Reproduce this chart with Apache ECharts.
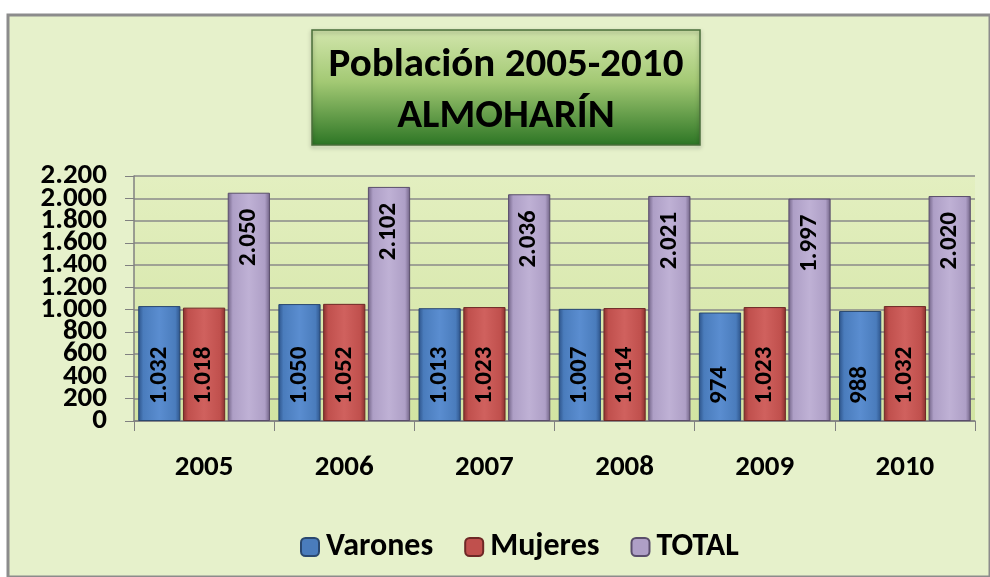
<!DOCTYPE html>
<html>
<head>
<meta charset="utf-8">
<script src="https://cdn.jsdelivr.net/npm/echarts@6/dist/echarts.min.js"></script>
<style>
html,body{margin:0;padding:0;background:#fff;}
#c{width:990px;height:577px;}
</style>
</head>
<body>
<div id="c"></div>
<script>
const categories = ['2005','2006','2007','2008','2009','2010'];
const varones = [1032, 1050, 1013, 1007, 974, 988];
const mujeres = [1018, 1052, 1023, 1014, 1023, 1032];
const total = [2050, 2102, 2036, 2021, 1997, 2020];
const titleLines = ['Población 2005-2010', 'ALMOHARÍN'];
const yTicks = [0, 200, 400, 600, 800, 1000, 1200, 1400, 1600, 1800, 2000, 2200];
const yMin = 0, yMax = 2200, yStep = 200;

const FONT = 'Carlito, "Liberation Sans Narrow", "Open Sans", sans-serif';

function fmt(v){
  const s = String(Math.round(v));
  return s.replace(/\B(?=(\d{3})+(?!\d))/g, '.');
}
function barGrad(edge, mid, light){
  return new echarts.graphic.LinearGradient(0,0,1,0,[
    {offset:0,color:edge},{offset:0.12,color:mid},{offset:0.5,color:light},{offset:0.88,color:mid},{offset:1,color:edge}
  ]);
}

const chart = echarts.init(document.getElementById('c'), null, {renderer:'canvas'});
const labelBase = {
  show:true, rotate:90, fontFamily:FONT, fontWeight:'bold', fontSize:25, color:'#000',
  formatter:p=>fmt(p.value)
};
const baseGraphics = [
  {type:'rect', z:-10, shape:{x:8,y:15,width:982,height:562},
   style:{fill:'#e6f1cb', stroke:'#8c8c8c', lineWidth:3}},
  {type:'rect', z:-9, shape:{x:312,y:30,width:388,height:115},
   style:{fill:new echarts.graphic.LinearGradient(0,0,0,1,[
     {offset:0,color:'#d3e6ad'},{offset:0.45,color:'#a3c974'},{offset:1,color:'#2c7524'}]),
     stroke:'#4a6e3a', lineWidth:1.5, shadowColor:'rgba(0,0,0,0.35)', shadowBlur:4, shadowOffsetY:2}},
  {type:'text', z:10, x:506, y:66,
   style:{text:titleLines[0], font:'bold 41px '+FONT, fill:'#000', textAlign:'center', textVerticalAlign:'middle'}},
  {type:'text', z:10, x:506, y:117,
   style:{text:titleLines[1], font:'bold 41px '+FONT, fill:'#000', textAlign:'center', textVerticalAlign:'middle'}}
];
chart.setOption({
  animation:false,
  textStyle:{fontFamily:FONT},
  graphic:baseGraphics,
  grid:{left:134, right:15, top:176, bottom:156, show:true,
        backgroundColor:new echarts.graphic.LinearGradient(0,0,0,1,[
          {offset:0,color:'#e3efc0'},{offset:1,color:'#d2e4a2'}]),
        borderWidth:0},
  legend:{top:526, left:295, itemWidth:18, itemHeight:18, itemGap:31,
          textStyle:{fontFamily:FONT, fontWeight:'bold', fontSize:32, color:'#000', padding:[0,0,0,2]},
          data:[
            {name:'Varones', itemStyle:{color:'#4a7cbc'}},
            {name:'Mujeres', itemStyle:{color:'#c0504d'}},
            {name:'TOTAL', itemStyle:{color:'#ae9fc6'}}
          ]},
  xAxis:{type:'category', data:categories,
         axisLine:{show:true, lineStyle:{color:'#808080', width:1.5}},
         axisTick:{show:true, length:10, lineStyle:{color:'#808080'}},
         axisLabel:{margin:32, fontFamily:FONT, fontWeight:'bold', fontSize:29, color:'#000'}},
  yAxis:{type:'value', min:yMin, max:yMax, interval:yStep,
         axisLine:{show:true, lineStyle:{color:'#808080', width:1.5}},
         axisTick:{show:true, length:9, lineStyle:{color:'#808080'}},
         splitLine:{lineStyle:{color:'#8a8a8a', width:1.5}},
         axisLabel:{show:false}},
  series:[
    {name:'Varones', type:'bar', data:varones, barGap:'6%', barCategoryGap:'6%',
     itemStyle:{color:barGrad('#2c5288','#4a7cbc','#5a8dd0'), borderColor:'#2a4870', borderWidth:1},
     label:Object.assign({position:'insideBottom', align:'left', verticalAlign:'middle', distance:17}, labelBase)},
    {name:'Mujeres', type:'bar', data:mujeres,
     itemStyle:{color:barGrad('#86302e','#c0504d','#d0615e'), borderColor:'#6e2826', borderWidth:1},
     label:Object.assign({position:'insideBottom', align:'left', verticalAlign:'middle', distance:17}, labelBase)},
    {name:'TOTAL', type:'bar', data:total,
     itemStyle:{color:barGrad('#6f6184','#ae9fc6','#bfb1d5'), borderColor:'#5a4e6c', borderWidth:1},
     label:Object.assign({position:'insideTop', align:'right', verticalAlign:'middle', distance:16}, labelBase)}
  ]
});
// y tick labels placed through the axis scale
const yLabelGraphics = yTicks.map(v => {
  const py = chart.convertToPixel({yAxisIndex:0}, v);
  return {type:'text', z:10, x:107, y:py,
          style:{text:fmt(v), font:'bold 29px '+FONT, fill:'#000', textAlign:'right', textVerticalAlign:'middle'}};
});
chart.setOption({graphic:baseGraphics.concat(yLabelGraphics)});
</script>
</body>
</html>
